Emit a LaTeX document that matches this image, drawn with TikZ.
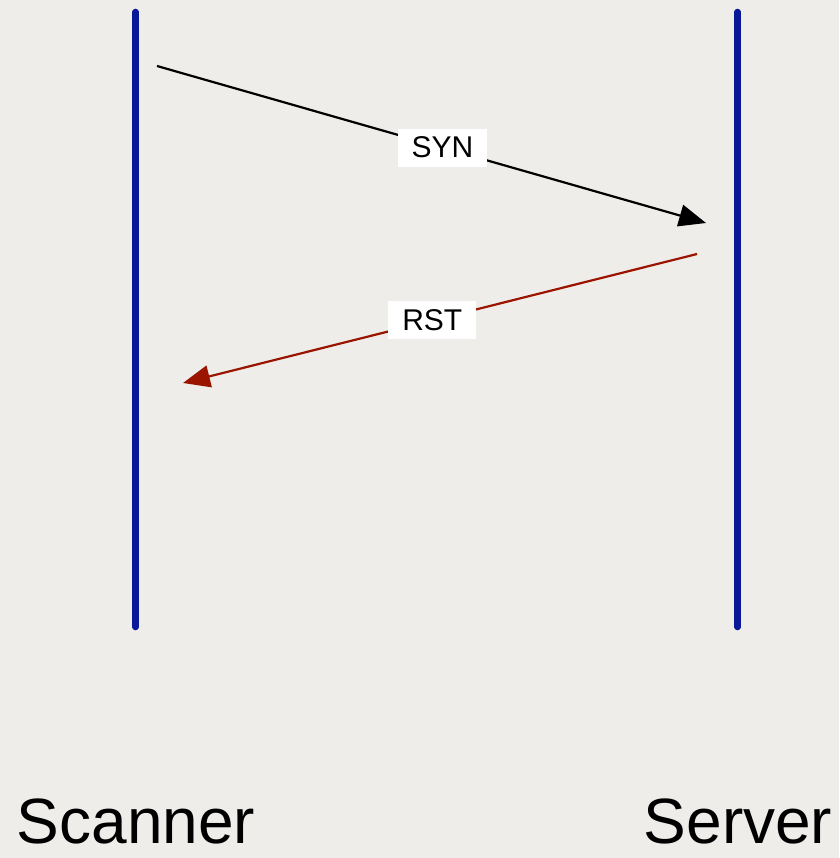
\documentclass[tikz,border=0pt]{standalone}
\usepackage{fontspec}
\setmainfont{Liberation Sans}
\usetikzlibrary{arrows.meta}
\definecolor{paper}{RGB}{238,237,234}
\definecolor{lifeblue}{RGB}{8,24,150}
\definecolor{rstred}{RGB}{155,20,0}
\tikzset{
  lifeline/.style={draw=lifeblue, line width=6.5pt, line cap=round},
  msg/.style={line width=2.2pt, -{Triangle[length=27pt,width=22pt]}},
  msglabel/.style={fill=white, inner xsep=14pt, inner ysep=0pt,
    minimum height=38pt, font=\fontsize{30}{30}\selectfont, text=black},
  actor/.style={font=\fontsize{64}{64}\selectfont, text=black, anchor=base, inner sep=0pt}
}
\begin{document}
\begin{tikzpicture}[x=1pt, y=-1pt]
  % page and background
  \fill[paper] (0,0) rectangle (839,858);
  \useasboundingbox (0,0) rectangle (839,858);

  % lifeline end points
  \coordinate (scanTop) at (135.5,12);
  \coordinate (scanBot) at (135.5,627);
  \coordinate (servTop) at (737.5,12);
  \coordinate (servBot) at (737.5,627);

  % message end points
  \coordinate (synFrom) at (157,66);
  \coordinate (synTo) at (706,223);
  \coordinate (rstFrom) at (697,254);
  \coordinate (rstTo) at (183,383);

  % lifelines
  \draw[lifeline] (scanTop) -- (scanBot);
  \draw[lifeline] (servTop) -- (servBot);

  % messages
  \draw[msg, draw=black, fill=black] (synFrom) -- (synTo)
    node[msglabel, pos=0.52] (synLabel) {SYN};
  \draw[msg, draw=rstred, fill=rstred] (rstFrom) -- (rstTo)
    node[msglabel, pos=0.515] (rstLabel) {RST};

  % actor names
  \node[actor] (scanner) at (136,843) {Scanner};
  \node[actor] (server) at (738,843) {Server};
\end{tikzpicture}
\end{document}
